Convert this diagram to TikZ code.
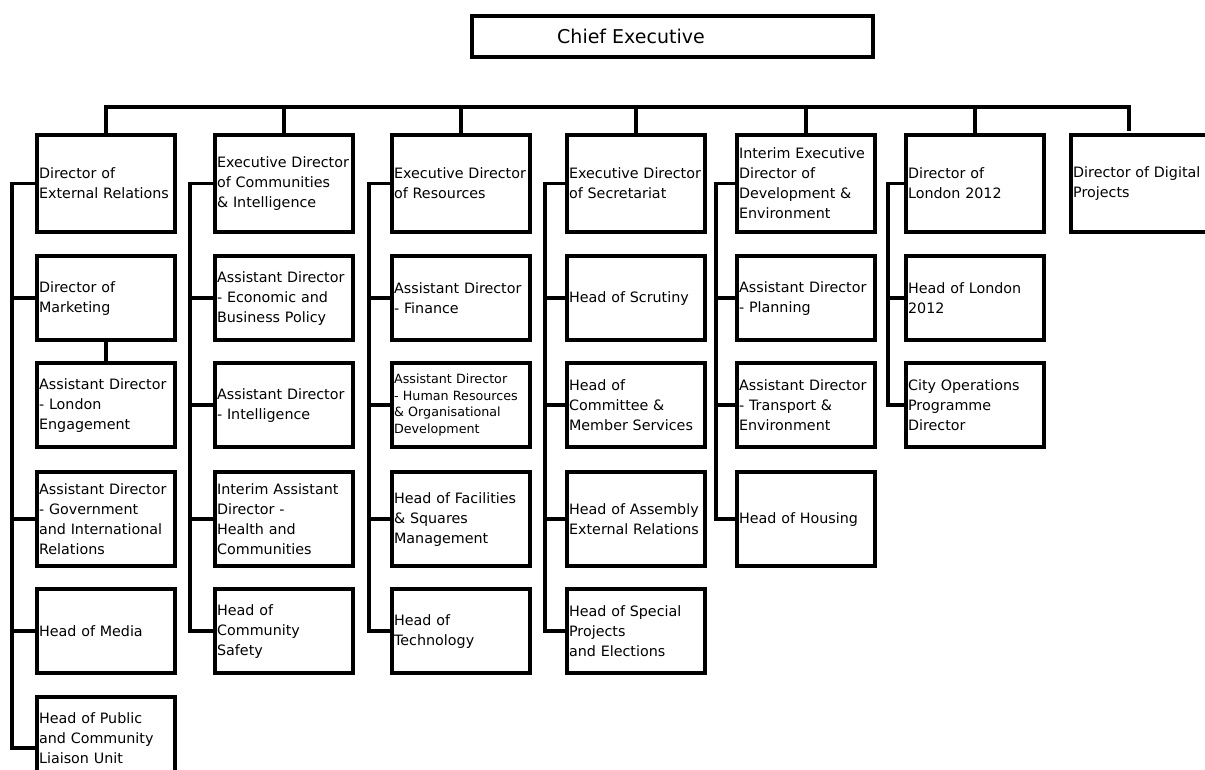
\documentclass[tikz,border=0pt]{standalone}
\usepackage{fontspec}
\setmainfont{DejaVu Sans}
\begin{document}
\begin{tikzpicture}[x=1pt,y=-1pt]
\tikzset{
 box/.style={draw, line width=4.2pt, anchor=north west, inner sep=0pt,
   minimum width=137.8pt, text width=134pt, align=left,
   font=\fontsize{14.3}{20}\selectfont},
 small/.style={font=\fontsize{12.7}{16.7}\selectfont},
 rowa/.style={minimum height=96.8pt},
 rowb/.style={minimum height=83.8pt},
 rowc/.style={minimum height=83.8pt},
 rowd/.style={minimum height=93.8pt},
 rowe/.style={minimum height=83.8pt},
 rowf/.style={minimum height=81.8pt},
 conn/.style={line width=3.3pt, line join=miter},
 ceo/.style={draw, line width=4.2pt, minimum width=400.8pt, minimum height=40.8pt, inner sep=0pt},
 ceotext/.style={anchor=west, inner sep=0pt, font=\fontsize{19}{23}\selectfont},
}
\clip (0,0) rectangle (1205,769);
\fill[white] (0,0) rectangle (1205,769);

% Chief executive
\node[ceo] (ce) at (672.5,36.5) {};
\node[ceotext] (cet) at (557,36.5) {Chief Executive};

% Column 1
\node[box,rowa] (c1r1) at (35.1,133.1) {Director of\\External Relations};
\node[box,rowb] (c1r2) at (35.1,254.1) {Director of\\Marketing};
\node[box,rowc] (c1r3) at (35.1,361.1) {Assistant Director\\- London\\Engagement};
\node[box,rowd] (c1r4) at (35.1,470.1) {Assistant Director\\- Government\\and International\\Relations};
\node[box,rowe] (c1r5) at (35.1,587.1) {Head of Media};
\node[box,rowf] (c1r6) at (35.1,695.1) {Head of Public\\and Community\\Liaison Unit};

% Column 2
\node[box,rowa] (c2r1) at (213.1,133.1) {Executive Director\\of Communities\\\& Intelligence};
\node[box,rowb] (c2r2) at (213.1,254.1) {Assistant Director\\- Economic and\\Business Policy};
\node[box,rowc] (c2r3) at (213.1,361.1) {Assistant Director\\- Intelligence};
\node[box,rowd] (c2r4) at (213.1,470.1) {Interim Assistant\\Director -\\Health and\\Communities};
\node[box,rowe] (c2r5) at (213.1,587.1) {Head of\\Community\\Safety};

% Column 3
\node[box,rowa] (c3r1) at (390.1,133.1) {Executive Director\\of Resources};
\node[box,rowb] (c3r2) at (390.1,254.1) {Assistant Director\\- Finance};
\node[box,rowc,small] (c3r3) at (390.1,361.1) {Assistant Director\\- Human Resources\\\& Organisational\\Development};
\node[box,rowd] (c3r4) at (390.1,470.1) {Head of Facilities\\\& Squares\\Management};
\node[box,rowe] (c3r5) at (390.1,587.1) {Head of\\Technology};

% Column 4
\node[box,rowa] (c4r1) at (565.1,133.1) {Executive Director\\of Secretariat};
\node[box,rowb] (c4r2) at (565.1,254.1) {Head of Scrutiny};
\node[box,rowc] (c4r3) at (565.1,361.1) {Head of\\Committee \&\\Member Services};
\node[box,rowd] (c4r4) at (565.1,470.1) {Head of Assembly\\External Relations};
\node[box,rowe] (c4r5) at (565.1,587.1) {Head of Special\\Projects\\and Elections};

% Column 5
\node[box,rowa] (c5r1) at (735.1,133.1) {Interim Executive\\Director of\\Development \&\\Environment};
\node[box,rowb] (c5r2) at (735.1,254.1) {Assistant Director\\- Planning};
\node[box,rowc] (c5r3) at (735.1,361.1) {Assistant Director\\- Transport \&\\Environment};
\node[box,rowd] (c5r4) at (735.1,470.1) {Head of Housing};

% Column 6
\node[box,rowa] (c6r1) at (904.1,133.1) {Director of\\London 2012};
\node[box,rowb] (c6r2) at (904.1,254.1) {Head of London\\2012};
\node[box,rowc] (c6r3) at (904.1,361.1) {City Operations\\Programme\\Director};

% Column 7
\node[box,rowa,minimum width=150pt,text width=146pt] (c7r1) at (1069.1,133.1) {Director of Digital\\Projects};

% Bus
\coordinate (bus) at (0,107);
\coordinate (d7) at (1129,131);
\draw[conn] (c1r1.north) -- (c1r1.north |- bus) -- (d7 |- bus) -- (d7);
\foreach \c in {2,...,6}{
  \draw[conn] (c\c r1.north) -- (c\c r1.north |- bus);
}

% Spines
\coordinate (s1) at (12,0);
\coordinate (s2) at (190,0);
\coordinate (s3) at (369,0);
\coordinate (s4) at (545,0);
\coordinate (s5) at (716,0);
\coordinate (s6) at (888,0);
\coordinate (c1r6in) at ([yshift=-10pt]c1r6.west);

\draw[conn] (c1r1.west) -- (c1r1.west -| s1) -- (c1r6in -| s1) -- (c1r6in);
\foreach \r in {2,4,5}{ \draw[conn] (c1r\r.west) -- (c1r\r.west -| s1); }
\draw[conn] (c1r2.south) -- (c1r3.north);

\foreach \c in {2,3,4}{
  \draw[conn] (c\c r1.west) -- (c\c r1.west -| s\c) -- (c\c r5.west -| s\c) -- (c\c r5.west);
  \foreach \r in {2,3,4}{ \draw[conn] (c\c r\r.west) -- (c\c r\r.west -| s\c); }
}
\draw[conn] (c5r1.west) -- (c5r1.west -| s5) -- (c5r4.west -| s5) -- (c5r4.west);
\foreach \r in {2,3}{ \draw[conn] (c5r\r.west) -- (c5r\r.west -| s5); }
\draw[conn] (c6r1.west) -- (c6r1.west -| s6) -- (c6r3.west -| s6) -- (c6r3.west);
\draw[conn] (c6r2.west) -- (c6r2.west -| s6);
\end{tikzpicture}
\end{document}
